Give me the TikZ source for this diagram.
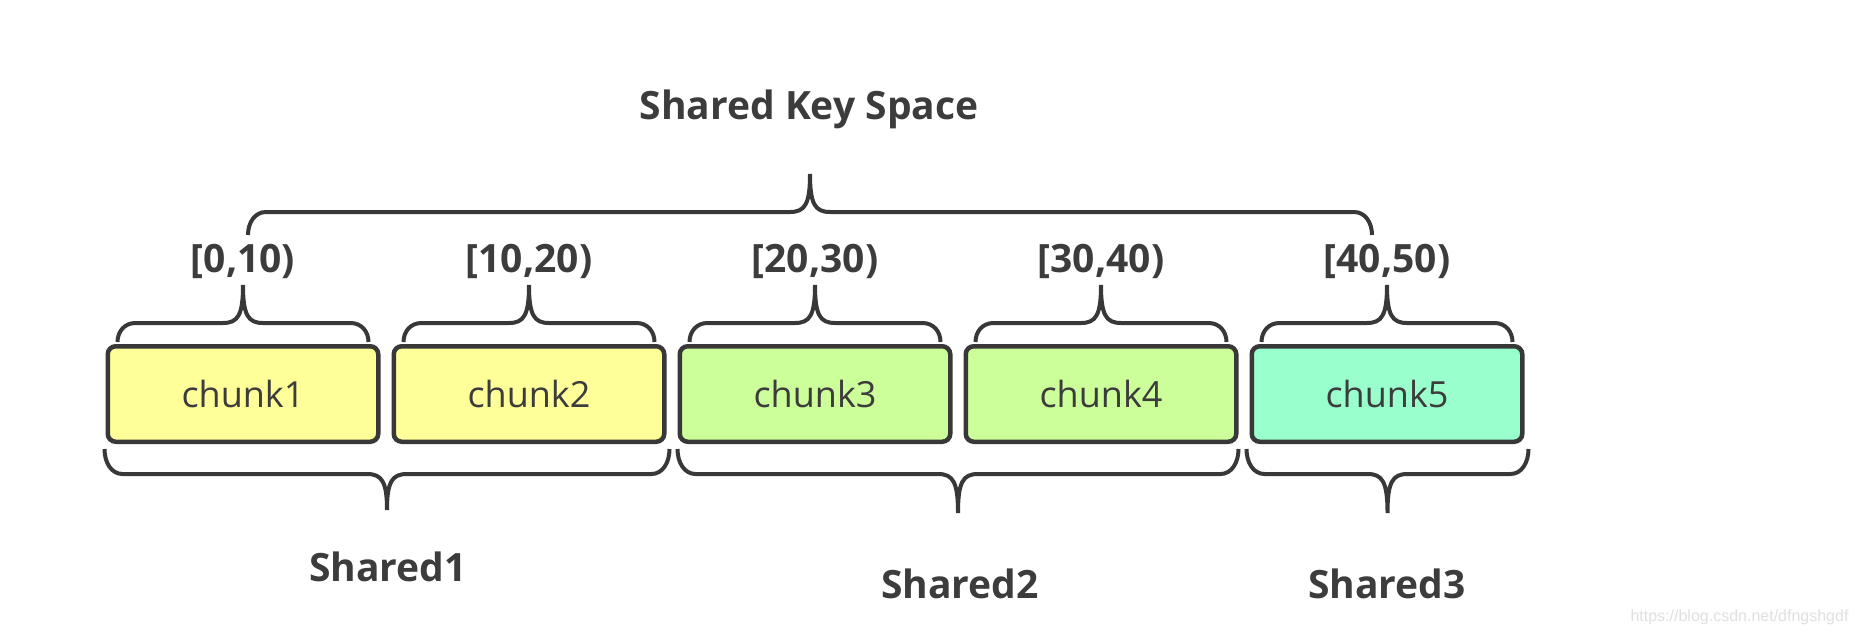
\documentclass[tikz,border=0pt]{standalone}
\usepackage{fontspec}
\setmainfont{Open Sans}
\newfontfamily\markfont{Liberation Sans}
\usetikzlibrary{positioning,calc}

\definecolor{linegrey}{HTML}{383838}
\definecolor{textgrey}{HTML}{3C3C3C}
\definecolor{chunkyellow}{HTML}{FFFF99}
\definecolor{chunkgreen}{HTML}{CCFF99}
\definecolor{chunkteal}{HTML}{99FFCC}

\tikzset{
  chunk/.style={draw=linegrey, line width=4.5pt, rounded corners=8pt,
    minimum width=270.5pt, minimum height=95.5pt, inner sep=0pt,
    font=\fontsize{36}{40}\selectfont, text=textgrey},
  rangelabel/.style={font=\bfseries\fontsize{39}{42}\selectfont, text=textgrey, inner sep=0pt},
  % curly brace between two points: {direction}{hook height}{tip height}
  kbrace/.style n args={3}{draw=linegrey, line width=4pt, to path={
    let \p1=(\tikztostart), \p2=(\tikztotarget), \p3=($(\p1)!0.5!(\p2)$) in
    .. controls (\x1,{\y1+(#1)*(#2)*0.55}) and ({\x1+7pt},{\y1+(#1)*(#2)}) .. ({\x1+18pt},{\y1+(#1)*(#2)})
    -- ({\x3-20pt},{\y1+(#1)*(#2)})
    .. controls ({\x3-5pt},{\y1+(#1)*(#2)}) and (\x3,{\y1+(#1)*((#2)+8)}) .. (\x3,{\y1+(#1)*((#2)+(#3))})
    .. controls (\x3,{\y1+(#1)*((#2)+8)}) and ({\x3+5pt},{\y1+(#1)*(#2)}) .. ({\x3+20pt},{\y1+(#1)*(#2)})
    -- ({\x2-18pt},{\y1+(#1)*(#2)})
    .. controls ({\x2-7pt},{\y1+(#1)*(#2)}) and (\x2,{\y1+(#1)*(#2)*0.55}) .. (\x2,\y1)}}
}

\begin{document}
\begin{tikzpicture}[x=1pt,y=-1pt]
  \fill[white] (0,0) rectangle (1856,634);
  \useasboundingbox (0,0) rectangle (1856,634);

  %% chunks
  \node[chunk, fill=chunkyellow] (chunk1) at (243,394) {chunk1};
  \node[chunk, fill=chunkyellow, right=11pt of chunk1] (chunk2) {chunk2};
  \node[chunk, fill=chunkgreen, right=11pt of chunk2] (chunk3) {chunk3};
  \node[chunk, fill=chunkgreen, right=11pt of chunk3] (chunk4) {chunk4};
  \node[chunk, fill=chunkteal, right=11pt of chunk4] (chunk5) {chunk5};

  %% ranges over the chunks
  \node[rangelabel] (range1) at ([yshift=83pt]chunk1.north) {[0,10)};
  \node[rangelabel] (range2) at ([yshift=83pt]chunk2.north) {[10,20)};
  \node[rangelabel] (range3) at ([yshift=83pt]chunk3.north) {[20,30)};
  \node[rangelabel] (range4) at ([yshift=83pt]chunk4.north) {[30,40)};
  \node[rangelabel] (range5) at ([yshift=83pt]chunk5.north) {[40,50)};

  \foreach \i in {1,...,5}
    \draw[kbrace={1}{19}{38}] ([xshift=12pt,yshift=2pt]chunk\i.north west)
      to ([xshift=-12pt,yshift=2pt]chunk\i.north east);

  %% key space
  \node[rangelabel] (keyspace) at (809,109) {Shared Key Space};
  \coordinate (keyL) at (248,235);
  \coordinate (keyR) at (1372,235);
  \draw[kbrace={1}{23}{38}] (keyL) to (keyR);

  %% shared groups
  \draw[kbrace={-1}{25}{36}] ([xshift=-1pt,yshift=-5pt]chunk1.south west)
    to ([xshift=3pt,yshift=-5pt]chunk2.south east);
  \draw[kbrace={-1}{25}{39}] ([yshift=-5pt]chunk3.south west)
    to ([yshift=-5pt]chunk4.south east);
  \draw[kbrace={-1}{25}{39}] ([xshift=-3pt,yshift=-5pt]chunk5.south west)
    to ([xshift=4pt,yshift=-5pt]chunk5.south east);

  \node[rangelabel] (shared1) at (388,567) {Shared1};
  \node[rangelabel] (shared2) at (960,584) {Shared2};
  \node[rangelabel] (shared3) at (1387,584) {Shared3};

  % watermark
  \node[text=black!12, font=\markfont\fontsize{16}{18}\selectfont, anchor=east] (mark) at (1852,617) {https://blog.csdn.net/dfngshgdf};
\end{tikzpicture}
\end{document}
